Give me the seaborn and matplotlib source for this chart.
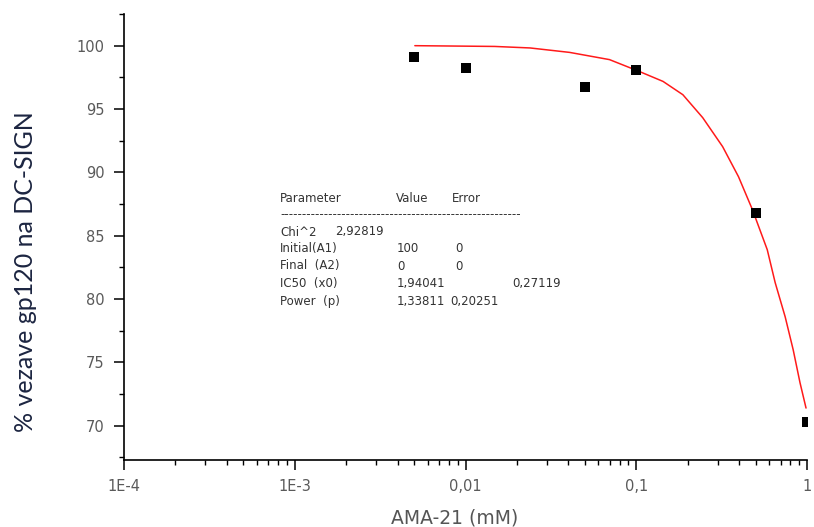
import numpy as np
import pandas as pd
import matplotlib
matplotlib.use("Agg")
import matplotlib.pyplot as plt
import seaborn as sns
from matplotlib.ticker import FixedLocator, NullFormatter, MultipleLocator

sns.set_theme(style="white")
plt.rcParams['font.family'] = ['DejaVu Sans']

# measured data
conc = [0.005, 0.01, 0.05, 0.1, 0.5, 1.0]
binding = [99.1, 98.2, 96.7, 98.1, 86.8, 70.3]

# fitted curve
fit_x = [0.00505, 0.0148, 0.0239, 0.0407, 0.0697, 0.104, 0.1435, 0.1875, 0.245,
         0.3206, 0.397, 0.479, 0.585, 0.651, 0.745, 0.830, 0.910, 0.987]
fit_y = [100.0, 99.94, 99.82, 99.47, 98.9, 97.97, 97.18, 96.13, 94.32,
         92.03, 89.66, 87.06, 83.9, 81.3, 78.6, 76.0, 73.4, 71.4]

xtick_vals = [1e-4, 1e-3, 1e-2, 1e-1, 1.0]
xtick_labels = ["1E-4", "1E-3", "0,01", "0,1", "1"]
ytick_vals = [70, 75, 80, 85, 90, 95, 100]

param_rows = [
    ["Parameter", "Value", "Error"],
    ["Chi^2", "2,92819"],
    ["Initial(A1)", "100", "0"],
    ["Final  (A2)", "0", "0"],
    ["IC50  (x0)", "1,94041", "0,27119"],
    ["Power  (p)", "1,33811", "0,20251"],
]

W, H = 814, 527
fig = plt.figure(figsize=(W / 100, H / 100), dpi=100)
ax = fig.add_axes([124 / W, (H - 460) / H, (807 - 124) / W, (460 - 14) / H])

df_pts = pd.DataFrame({"x": conc, "y": binding})
df_fit = pd.DataFrame({"x": fit_x, "y": fit_y})

sns.lineplot(data=df_fit, x="x", y="y", color="#ff1a1a", linewidth=1.1, sort=False, ax=ax)
sns.scatterplot(data=df_pts, x="x", y="y", marker="s", s=58, color="black",
                edgecolor="black", linewidth=0, ax=ax, zorder=3)

ax.set_xscale("log")
ax.set_xlim(1e-4, 1.0)
ax.set_ylim(67.3, 102.5)

ax.xaxis.set_major_locator(FixedLocator(xtick_vals))
ax.set_xticklabels(xtick_labels)
minor = [m * 10.0 ** e for e in range(-4, 0) for m in range(2, 10)]
ax.xaxis.set_minor_locator(FixedLocator(minor))
ax.xaxis.set_minor_formatter(NullFormatter())
ax.yaxis.set_major_locator(FixedLocator(ytick_vals))
ax.yaxis.set_minor_locator(MultipleLocator(2.5))

for s in ["top", "right"]:
    ax.spines[s].set_visible(False)
for s in ["left", "bottom"]:
    ax.spines[s].set_color("black")
    ax.spines[s].set_linewidth(1.2)

ax.tick_params(axis="both", which="major", direction="out", length=7, width=1.1,
               color="black", labelsize=10.5, labelcolor="#5a5a5a", pad=7,
               bottom=True, left=True)
ax.tick_params(axis="both", which="minor", direction="out", length=3.5, width=1.0,
               color="black", bottom=True, left=True)

ax.set_xlabel("AMA-21 (mM)", fontsize=13.5, color="#555555")
ax.xaxis.set_label_coords((455 - 124) / (807 - 124), -0.108)
ax.set_ylabel("% vezave gp120 na DC-SIGN", fontsize=18, color="#1c2541",
              family=["Lato", "DejaVu Sans"])
ax.yaxis.set_label_coords(-87 / (807 - 124), 0.4215)

# parameter table
row_y = [198, 232, 249, 266, 283, 301]
col_pos = [
    [280, 396, 452],
    [280, 335],
    [280, 397, 455],
    [280, 397, 455],
    [280, 397, 512],
    [280, 397, 450],
]
for ry, row, cols in zip(row_y, param_rows, col_pos):
    for cx, txt in zip(cols, row):
        fig.text(cx / W, 1 - ry / H, txt, fontsize=8.5, color="#333333",
                 va="center", ha="left")
fig.text(280 / W, 1 - 215 / H, "-" * 55, fontsize=8.5, color="#333333",
         va="center", ha="left")

fig.savefig("out.png", dpi=100)
